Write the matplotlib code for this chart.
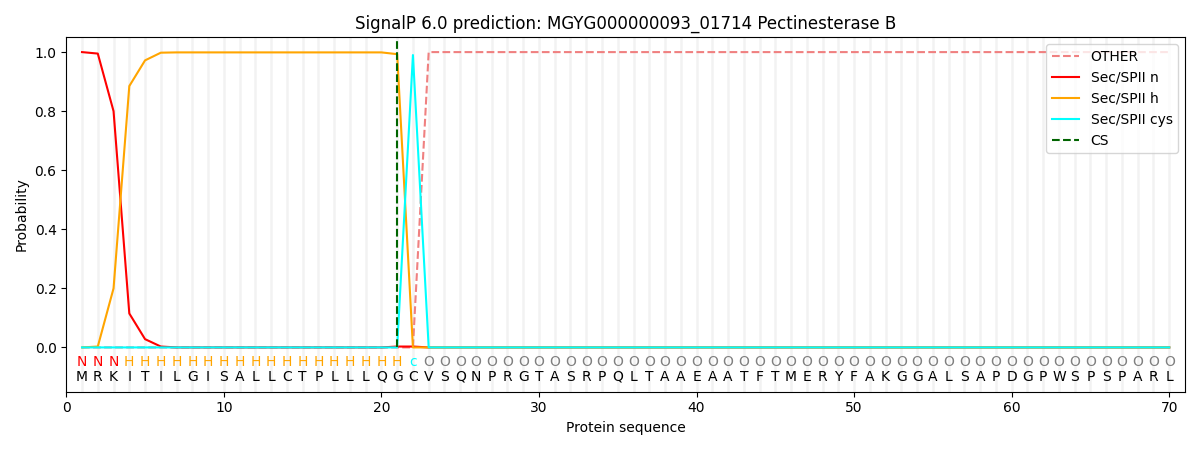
import numpy as np
import matplotlib
matplotlib.use("Agg")
import matplotlib.pyplot as plt

sequence = "MRKITILGISALLCTPLLLQGCVSQNPRGTASRPQLTAAEAATFTMERYFAKGGALSAPDGPWSPSPARL"
regions = "NNNHHHHHHHHHHHHHHHHHHcOOOOOOOOOOOOOOOOOOOOOOOOOOOOOOOOOOOOOOOOOOOOOOOO"

# per-residue probabilities
other = [0.0] * 22 + [1.0] * 48
sec_n = [1.0, 0.995, 0.80, 0.115, 0.028, 0.003] + [0.0] * 14 + [0.003, 0.003] + [0.0] * 48
sec_h = [0.0, 0.003, 0.20, 0.885, 0.972, 0.998] + [0.999] * 14 + [0.993, 0.0] + [0.0] * 48
sec_cys = [0.0] * 21 + [0.99] + [0.0] * 48
cs_pos = 21

region_colors = {"N": "red", "H": "orange", "c": "cyan", "O": "grey"}

x = np.arange(1, len(sequence) + 1)

fig, ax = plt.subplots(figsize=(12, 4.5), dpi=100)

for xi in x:
    ax.axvline(xi, color="#f2f2f2", linewidth=1.8, zorder=0)

ax.plot(x, other, color="lightcoral", linestyle="--", label="OTHER")
ax.plot(x, sec_n, color="red", label="Sec/SPII n")
ax.plot(x, sec_h, color="orange", label="Sec/SPII h")
ax.plot(x, sec_cys, color="cyan", label="Sec/SPII cys")
ax.vlines(cs_pos, 0, 1.05, color="darkgreen", linestyle="--", label="CS")

for xi, aa, reg in zip(x, sequence, regions):
    ax.text(xi, -0.05, reg, color=region_colors[reg], ha="center", va="center", fontsize=10)
    ax.text(xi, -0.10, aa, color="black", ha="center", va="center", fontsize=10)

ax.set_xlim(0, 71)
ax.set_ylim(-0.15, 1.05)
ax.set_xlabel("Protein sequence")
ax.set_ylabel("Probability")
ax.set_title("SignalP 6.0 prediction: MGYG000000093_01714 Pectinesterase B")
ax.legend(loc="upper right")

plt.tight_layout()
plt.savefig("out.png", dpi=100)
